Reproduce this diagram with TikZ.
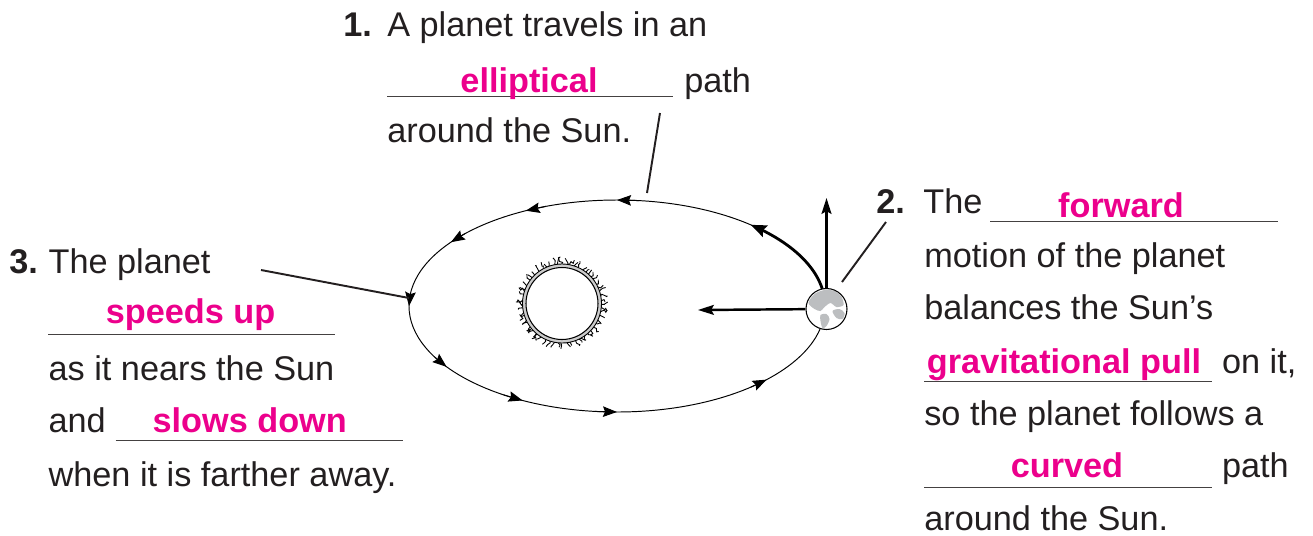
\documentclass[tikz,border=0pt]{standalone}
\usepackage{fontspec}
\setmainfont{Liberation Sans}
\usetikzlibrary{arrows.meta,calc,decorations.pathmorphing}
\definecolor{ink}{HTML}{231F20}
\definecolor{hotpink}{HTML}{EC008C}
\definecolor{landgray}{HTML}{BCBEC0}
\newcommand\labelsize{\fontsize{19.5pt}{23pt}\selectfont}
\tikzset{
  >={Stealth[length=9pt,width=5.6pt,inset=1.5pt]},
  % texter
  txt/.style={anchor=base west,inner sep=0pt,text=ink,font=\labelsize},
  num/.style={txt,font=\labelsize\bfseries},
  ans/.style={anchor=base,inner sep=0pt,text=hotpink,font=\labelsize\bfseries},
  blank/.style={draw=ink!85,line width=0.8pt},
  lead/.style={draw=ink,line width=1.1pt},
  % bana
  orbit/.style={draw=black,line width=0.55pt},
  otip/.style={-{Stealth[length=8pt,width=6pt,inset=1.2pt]},draw=black,line width=0.55pt},
  sweep/.style={-{Stealth[length=9pt,width=7pt,inset=1.4pt]},draw=black,line width=1.6pt},
  push/.style={->,draw=black,line width=1.4pt},
  sun/.style={circle,draw=black,fill=white,line width=0.6pt,inner sep=0pt,minimum size=1.44cm},
  corona/.style={fill=gray!40,draw=black,line width=0.5pt},
  wisp/.style={draw=black,line width=0.5pt,decorate,
               decoration={random steps,segment length=1.5pt,amplitude=1.2pt}},
  planet/.style={circle,draw=black,fill=white,line width=0.6pt,inner sep=0pt,minimum size=0.82cm,
    path picture={
      \begin{scope}[shift={(path picture bounding box.center)}]
        \fill[landgray] plot[smooth cycle] coordinates {(-18,-6) (-12,-15) (-2,-19) (8,-18) (15,-12) (17,-4) (10,-2) (4,-6) (-2,-2) (-6,2) (-12,0)};
        \fill[landgray] plot[smooth cycle] coordinates {(6,2) (13,0) (18,4) (16,10) (10,9)};
        \fill[landgray] plot[smooth cycle] coordinates {(-6,6) (0,5) (3,10) (0,17) (-4,19) (-6,12)};
      \end{scope}}},
}

\begin{document}
\begin{tikzpicture}[x=0.02cm,y=-0.02cm]
\useasboundingbox (0,0) rectangle (1313,535);
  % banan och riktningspilar
  \draw[orbit] (617,306) ellipse [x radius=208,y radius=106];
  \foreach \a in {90,116,143,180,215,243,270,316}
    \draw[otip] ({617+208*cos(\a-6)},{306-106*sin(\a-6)}) -- ({617+208*cos(\a)},{306-106*sin(\a)});
  \draw[sweep] plot[domain=8:50,samples=30] ({617+208*cos(\x)},{306-106*sin(\x)});
  % solen
  \coordinate (sunc) at (562,303.5);
  \pgfmathsetseed{11}
  \foreach \i in {0,...,59}
    \draw[wisp] ($(sunc)+({\i*6+2*rand}:39)$) -- ($(sunc)+({\i*6+5*rand}:{43+4*rnd})$);
  \path[corona] (sunc) circle[radius=39.5];
  \node[sun] (sun) at (sunc) {};
  % planeten
  \node[planet] (earth) at (826.5,309) {};
  \coordinate (up) at (826.5,198);
  \coordinate (pull) at (698,310);
  \draw[push] (earth) -- (up);
  \draw[push] (earth) -- (pull);

  % 1.
  \node[num] (n1) at (343,36) {1.};
  \node[txt] (t1a) at (387,36) {A planet travels in an};
  \draw[blank] (387,96.7) -- (673,96.7);
  \node[ans] (a1) at (529,92) {elliptical};
  \node[txt] (t1b) at (684,92) {path};
  \node[txt] (t1c) at (387,142) {around the Sun.};
  \coordinate (l1a) at (660,113);
  \coordinate (l1b) at (647,193);
  \draw[lead] (l1a) -- (l1b);

  % 2.
  \node[num] (n2) at (876,213) {2.};
  \node[txt] (t2a) at (923,213) {The};
  \draw[blank] (990,221.7) -- (1278,221.7);
  \node[ans] (a2) at (1121,217) {forward};
  \node[txt] (t2b) at (924,267) {motion of the planet};
  \node[txt] (t2c) at (924,319.5) {balances the Sun’s};
  \draw[blank] (924,381.3) -- (1211.7,381.3);
  \node[ans] (a3) at (1064,373) {gravitational pull};
  \node[txt] (t2d) at (1221.7,373) {on it,};
  \node[txt] (t2e) at (924,425) {so the planet follows a};
  \draw[blank] (924,487.7) -- (1211.7,487.7);
  \node[ans] (a4) at (1067,477) {curved};
  \node[txt] (t2f) at (1221.7,477) {path};
  \node[txt] (t2g) at (924,530) {around the Sun.};
  \coordinate (l2a) at (886,222);
  \coordinate (l2b) at (842,282);
  \draw[lead] (l2a) -- (l2b);

  % 3.
  \node[num] (n3) at (9,273.3) {3.};
  \node[txt] (t3a) at (48.3,273.3) {The planet};
  \draw[blank] (48.3,334.3) -- (335,334.3);
  \node[ans] (a5) at (190.5,323) {speeds up};
  \node[txt] (t3b) at (48.3,380) {as it nears the Sun};
  \node[txt] (t3c) at (48.3,432.5) {and};
  \draw[blank] (115.7,440.7) -- (402.7,440.7);
  \node[ans] (a6) at (249.7,432.7) {slows down};
  \node[txt] (t3d) at (48.3,486) {when it is farther away.};
  \coordinate (l3a) at (261,270);
  \coordinate (l3b) at (409,298);
  \draw[lead] (l3a) -- (l3b);
\end{tikzpicture}
\end{document}
